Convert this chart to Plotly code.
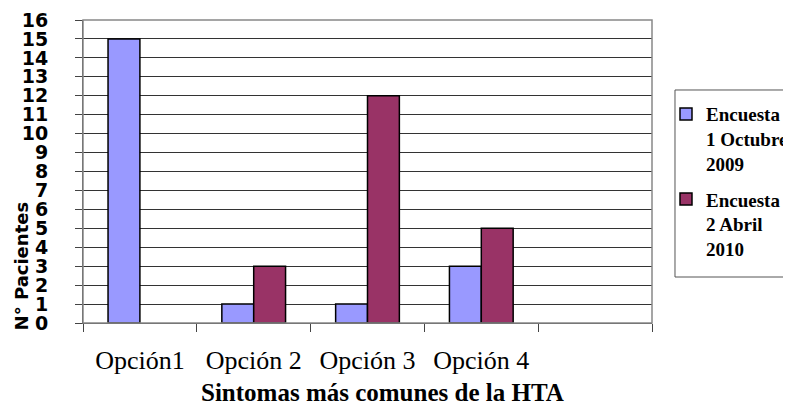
import plotly.graph_objects as go

categories = ["Opción1", "Opción 2", "Opción 3", "Opción 4", " "]
series1_name = "Encuesta<br>1 Octubre<br>2009"
series1_values = [15, 1, 1, 3, None]
series2_name = "Encuesta<br>2 Abril<br>2010"
series2_values = [None, 3, 12, 5, None]
y_ticks = list(range(0, 17))

fig = go.Figure()
fig.add_trace(go.Bar(
    x=categories, y=series1_values, name=series1_name,
    marker=dict(color="#9999FF", line=dict(color="black", width=1.5)),
    legendgroup="a",
))
fig.add_trace(go.Bar(
    x=categories, y=series2_values, name=series2_name,
    marker=dict(color="#993366", line=dict(color="black", width=1.5)),
    legendgroup="b",
))

fig.update_layout(
    width=783, height=398,
    margin=dict(l=75, r=139, t=12, b=83, autoexpand=False),
    paper_bgcolor="white", plot_bgcolor="white",
    barmode="group", bargap=0.44, bargroupgap=0,
    showlegend=True,
    legend=dict(
        x=1.0246, y=0.752, xanchor="left", yanchor="top",
        borderwidth=0, bgcolor="rgba(0,0,0,0)",
        font=dict(family="Liberation Serif", size=19, color="black", weight="bold"),
        valign="top", tracegroupgap=8, traceorder="grouped",
        itemwidth=30,
    ),
    xaxis=dict(
        type="category", categoryorder="array", categoryarray=categories,
        tickson="boundaries", ticks="outside", ticklen=8, tickcolor="#444444",
        showline=True, linecolor="#444444", linewidth=1, mirror=False,
        showgrid=False,
        tickfont=dict(family="Liberation Serif", size=26, color="black"),
        ticklabelstandoff=14,
    ),
    yaxis=dict(
        range=[0, 16], tickvals=y_ticks, ticktext=[str(v) for v in y_ticks],
        ticks="outside", ticklen=7, tickcolor="#444444",
        showline=True, linecolor="#444444", linewidth=1,
        showgrid=True, gridcolor="#333333", gridwidth=1,
        tickfont=dict(family="DejaVu Sans", size=19, color="black", weight="bold"),
        ticklabelstandoff=23,
        zeroline=False,
    ),
    shapes=[
        dict(type="rect", xref="paper", yref="paper", x0=0, y0=0, x1=1, y1=1,
             line=dict(color="#888888", width=1.5), layer="above"),
        dict(type="rect", xref="paper", yref="paper", x0=1.0404, y0=0.1518, x1=1.3, y1=0.769,
             line=dict(color="#555555", width=1), layer="below"),
    ],
    annotations=[
        dict(
            text="<b>N° Pacientes</b>", xref="paper", yref="paper",
            x=-0.109, y=0.19, xanchor="center", yanchor="middle",
            textangle=-90, showarrow=False,
            font=dict(family="DejaVu Sans", size=18, color="black"),
        ),
        dict(
            text="<b>Sintomas más comunes de la HTA</b>", xref="paper", yref="paper",
            x=0.5255, y=-0.231, xanchor="center", yanchor="middle",
            showarrow=False,
            font=dict(family="Liberation Serif", size=25, color="black"),
        ),
    ],
)

fig.write_html("out.html")
